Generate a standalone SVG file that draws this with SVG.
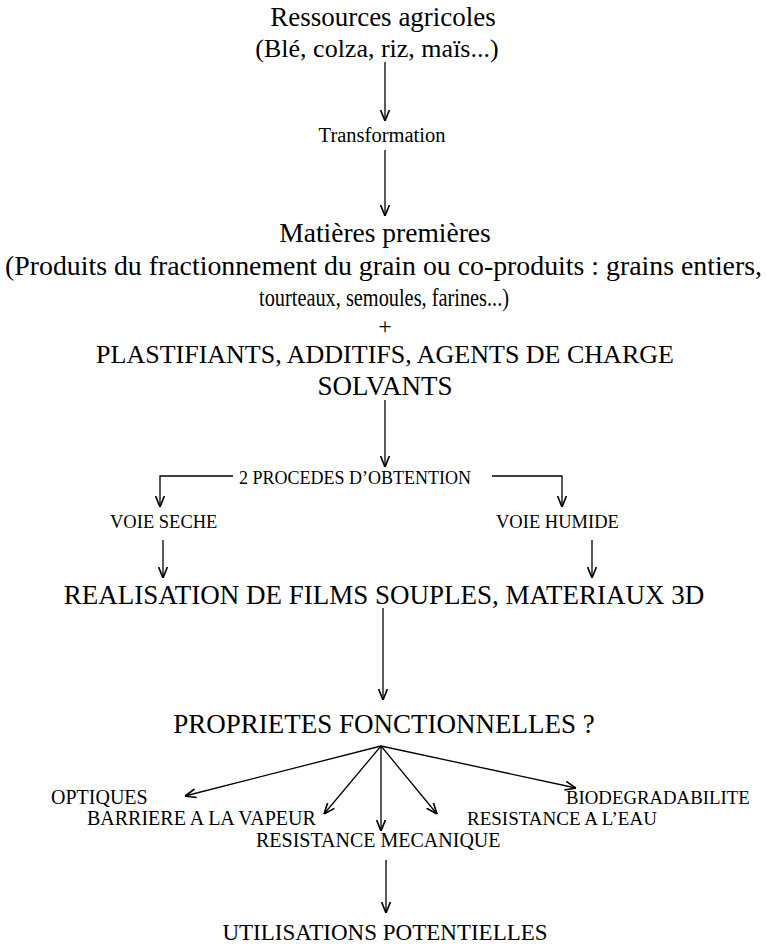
<svg xmlns="http://www.w3.org/2000/svg" width="766" height="949" viewBox="0 0 766 949">
<defs>
<marker id="ah" viewBox="0 0 10 10" refX="10" refY="5" markerWidth="11" markerHeight="11" markerUnits="userSpaceOnUse" orient="auto">
<path d="M0,1 L10,5 L0,9" fill="none" stroke="#000" stroke-width="1.5"/>
</marker>
<style>
text{font-family:"Liberation Serif","Times New Roman",serif;fill:#000}
.ctr{text-anchor:middle}
.l{font-size:27px}
.m{font-size:18.5px}
.p{font-size:20px}
.c line,.c path{stroke:#000;stroke-width:1.3;fill:none;marker-end:url(#ah)}
</style>
</defs>
<rect width="766" height="949" fill="#fff"/>
<g id="ressources">
<text class="l ctr" x="383" y="26">Ressources agricoles</text>
<text class="ctr" style="font-size:26px" x="377" y="57">(Blé, colza, riz, maïs...)</text>
</g>
<g id="transformation"><text class="ctr" style="font-size:20.5px" x="382" y="142">Transformation</text></g>
<g id="matieres">
<text class="ctr" style="font-size:27.5px" x="385" y="242">Matières premières</text>
<text class="ctr" style="font-size:27.5px" x="383.5" y="275" textLength="757" lengthAdjust="spacingAndGlyphs">(Produits du fractionnement du grain ou co-produits : grains entiers,</text>
<text class="ctr" style="font-size:25px" x="384" y="306" textLength="250" lengthAdjust="spacingAndGlyphs">tourteaux, semoules, farines...)</text>
<text class="ctr" style="font-size:24px" x="385" y="334">+</text>
<text class="ctr" style="font-size:26px" x="385" y="363">PLASTIFIANTS, ADDITIFS, AGENTS DE CHARGE</text>
<text class="l ctr" x="385" y="395">SOLVANTS</text>
</g>
<g id="procedes"><text style="font-size:18px" x="239" y="484">2 PROCEDES D’OBTENTION</text></g>
<g id="voie-seche"><text class="m" x="110" y="528">VOIE SECHE</text></g>
<g id="voie-humide"><text class="m" x="496" y="528">VOIE HUMIDE</text></g>
<g id="realisation"><text class="l ctr" x="384" y="604">REALISATION DE FILMS SOUPLES, MATERIAUX 3D</text></g>
<g id="proprietes"><text class="l ctr" x="384" y="733">PROPRIETES FONCTIONNELLES ?</text></g>
<g id="optiques"><text class="p" x="51" y="804">OPTIQUES</text></g>
<g id="barriere"><text class="p" x="87" y="825">BARRIERE A LA VAPEUR</text></g>
<g id="meca"><text class="p" x="256" y="847">RESISTANCE MECANIQUE</text></g>
<g id="eau"><text class="p" style="font-size:19px" x="467" y="825">RESISTANCE A L’EAU</text></g>
<g id="bio"><text class="p" style="font-size:18.8px" x="566" y="804">BIODEGRADABILITE</text></g>
<g id="utilisations"><text class="ctr" style="font-size:23px" x="385" y="940">UTILISATIONS POTENTIELLES</text></g>
<g id="connectors" class="c">
<line x1="385" y1="62" x2="385" y2="121"/>
<line x1="385" y1="150" x2="385" y2="216"/>
<line x1="385" y1="400" x2="385" y2="467"/>
<path d="M233,476 H160 V507"/>
<path d="M492,476 H562 V507"/>
<line x1="163" y1="540" x2="163" y2="578"/>
<line x1="592" y1="540" x2="592" y2="578"/>
<line x1="383" y1="608" x2="383" y2="700"/>
<line x1="381" y1="746" x2="185" y2="796"/>
<line x1="381" y1="746" x2="324" y2="814"/>
<line x1="381" y1="746" x2="381" y2="831"/>
<line x1="381" y1="746" x2="437" y2="814"/>
<line x1="381" y1="746" x2="576" y2="788"/>
<line x1="386" y1="860" x2="386" y2="913"/>
</g>
</svg>
